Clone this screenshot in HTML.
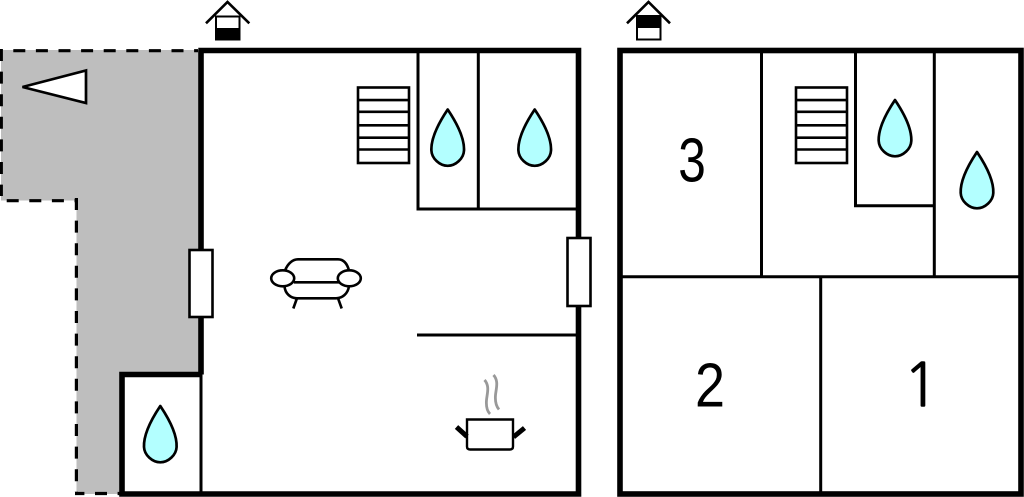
<!DOCTYPE html>
<html>
<head>
<meta charset="utf-8">
<style>
html,body{margin:0;padding:0;background:#fff;width:1024px;height:497px;overflow:hidden}
svg{display:block}
text{font-family:"Liberation Sans",sans-serif;fill:#000;text-anchor:middle}
</style>
</head>
<body>
<svg width="1024" height="497" viewBox="0 0 1024 497" xmlns="http://www.w3.org/2000/svg">
<defs>
<path id="drop" d="M0 0C4 6 17 25 16.3 41C16 49 8 56.300 0 56.300C-8 56.300 -16 49 -16.300 41C-17 25 -4 6 0 0Z" fill="#b3ffff" stroke="#000" stroke-width="2.700" stroke-linejoin="round"/>
<g id="stairs" fill="none" stroke="#000" stroke-width="2.600">
<rect x="0" y="0" width="51" height="75.500"/>
<path d="M0 12.600H51M0 24.300H51M0 37.800H51M0 50.200H51M0 62H51"/>
</g>
</defs>

<!-- terrace -->
<polygon points="1,50 200,50 200,374 122,374 122,494 76.500,494 76.500,200.500 1,200.500" fill="#bebebe"/>
<g fill="none" stroke="#000" stroke-width="3.200" stroke-dasharray="12 10.600">
<path d="M13.300 50.700H198"/>
<path d="M1.300 49V196"/>
<path d="M6.700 200.700H75"/>
<path d="M76.400 198V492"/>
<path d="M75 493.500H120" stroke-dashoffset="2.600"/>
</g>

<!-- left plan -->
<g fill="none" stroke="#000" stroke-width="5.600">
<path d="M198.300 50.500H578.500V494H122V374.500H201M201 50.500V374.500"/>
</g>
<g fill="none" stroke="#000" stroke-width="3">
<path d="M418 50V209H578M478.300 50V209M417 335H578M201 374V494"/>
</g>
<rect x="189.500" y="250" width="23" height="67" fill="#fff" stroke="#000" stroke-width="2.600"/>
<rect x="567.500" y="238" width="23" height="68" fill="#fff" stroke="#000" stroke-width="2.600"/>
<use href="#stairs" x="358" y="87.500"/>
<use href="#drop" x="447.700" y="109.500"/>
<use href="#drop" x="534.700" y="109.500"/>
<use href="#drop" x="160.300" y="406"/>

<!-- north arrow -->
<polygon points="22.500,87 86,70.500 86,103" fill="#fff" stroke="#000" stroke-width="2.700"/>

<!-- sofa -->
<g fill="none" stroke="#000" stroke-width="2.600">
<path d="M285 270.500C288 263 293 259.300 298 259.300H338C343 259.300 347 263 349 270.500"/>
<path d="M294 282.300H339"/>
<path d="M284.500 286C285 294 291 298.300 297 298.300H336C342 298.300 348 294 349 286"/>
<path d="M296.700 299L293.300 308.500M338.300 299L341.700 308.500"/>
<ellipse cx="282.700" cy="278.300" rx="11.500" ry="8"/>
<ellipse cx="349.300" cy="278.300" rx="11.500" ry="8"/>
</g>

<!-- pot -->
<path d="M467 419.500H513V446.500Q513 449.500 510 449.500H470Q467 449.500 467 446.500Z" fill="#fff" stroke="#000" stroke-width="2.400"/>
<path d="M456.500 427L467 436.500M524.500 428L513.500 437" fill="none" stroke="#000" stroke-width="5"/>
<path d="M484.500 380C490 386 487 394 486.500 400C486 406 487 411 490 414M493.500 375C499 381 496 389 495.500 395C495 401 496 406 499 409.500" fill="none" stroke="#999" stroke-width="2.800"/>

<!-- left entrance icon -->
<path d="M206 23.300L227.500 2L249.300 23.300" fill="none" stroke="#000" stroke-width="2.600"/>
<rect x="216" y="16.500" width="23.500" height="23" fill="#fff" stroke="#000" stroke-width="2"/>
<rect x="215" y="28" width="25" height="12" fill="#000"/>

<!-- right plan -->
<g fill="none" stroke="#000" stroke-width="5.600">
<rect x="620" y="50.500" width="401" height="443.500"/>
</g>
<g fill="none" stroke="#000" stroke-width="3">
<path d="M620 276.800H1021M761.500 50V277M934.300 50V277M855.500 50V205.700H934M820.700 276V494"/>
</g>
<use href="#stairs" x="796" y="87.500"/>
<use href="#drop" x="895" y="100"/>
<use href="#drop" x="977" y="152"/>

<!-- right entrance icon -->
<path d="M627 23.300L648.500 2L670 23.300" fill="none" stroke="#000" stroke-width="2.600"/>
<rect x="637" y="16" width="23.500" height="23.500" fill="#fff" stroke="#000" stroke-width="2"/>
<rect x="636" y="15" width="25" height="13" fill="#000"/>

<text transform="translate(692 181.500) scale(.8 1)" font-size="62">3</text>
<text transform="translate(710 406.700) scale(.87 1)" font-size="62">2</text>
<text x="921" y="406.700" font-size="60" stroke="#000" stroke-width=".6" style="font-family:'NanumGothic','Liberation Sans',sans-serif">1</text>
</svg>
</body>
</html>
